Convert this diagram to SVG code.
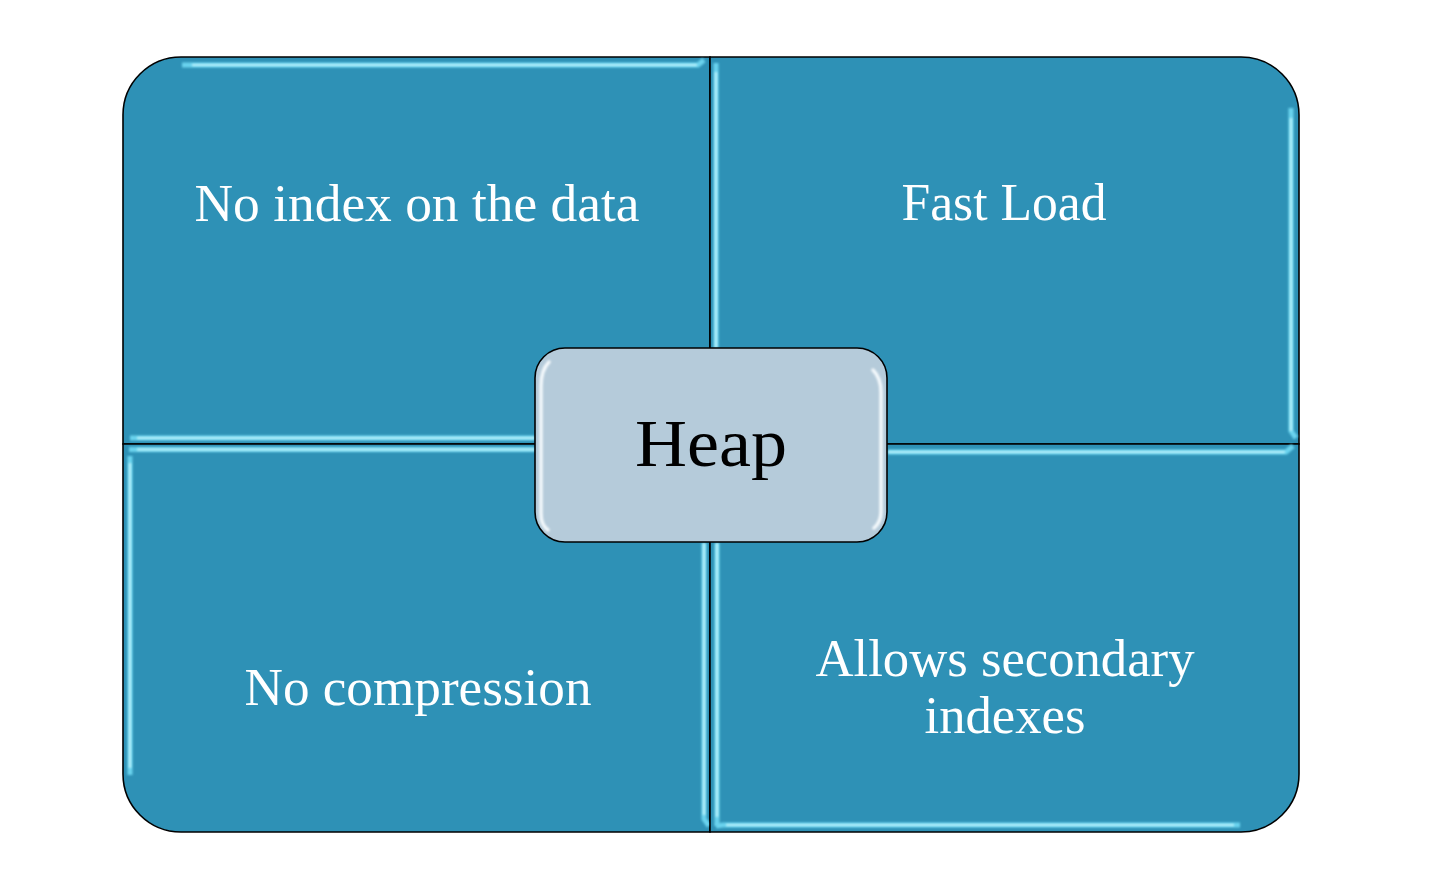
<svg xmlns="http://www.w3.org/2000/svg" width="1441" height="870" viewBox="0 0 1441 870">
  <defs>
    <filter id="soft" filterUnits="userSpaceOnUse" x="0" y="0" width="1441" height="870">
      <feGaussianBlur stdDeviation="0.8"/>
    </filter>
    <style>
      .quad { fill: #2e91b6; stroke: #000; stroke-width: 1.6; }
      .hl { fill: none; stroke: #6ad3ee; stroke-width: 5; stroke-linecap: butt; filter: url(#soft); }
      .hl2 { fill: none; stroke: #bff3fc; stroke-width: 2.2; filter: url(#soft); }
      .lbl { font-family: "Liberation Serif", "Times New Roman", serif; font-size: 52px; fill: #ffffff; text-anchor: middle; }
      .heapbox { fill: #b5cbda; stroke: #000; stroke-width: 1.6; }
      .heaplbl { font-family: "Liberation Serif", "Times New Roman", serif; font-size: 68px; fill: #000000; text-anchor: middle; }
      .hhl { fill: none; stroke: #f4f9fc; stroke-width: 3.5; stroke-linecap: round; filter: url(#soft); }
    </style>
  </defs>
  <rect width="1441" height="870" fill="#ffffff"/>

  <g id="node-no-index">
    <path class="quad" d="M123,444 V115 A58,58 0 0 1 181,57 H710 V444 Z"/>
    <path class="hl" d="M182,65 H698 L704,60"/>
    <path class="hl2" d="M192,65 H697"/>
    <path class="hl" d="M130,438 H535"/>
    <path class="hl2" d="M137,438 H535"/>
    <text class="lbl" x="417" y="221" textLength="445" lengthAdjust="spacingAndGlyphs">No index on the data</text>
  </g>

  <g id="node-fast-load">
    <path class="quad" d="M710,57 H1241 A58,58 0 0 1 1299,115 V444 H710 Z"/>
    <path class="hl" d="M716,63 V348"/>
    <path class="hl2" d="M716,72 V348"/>
    <path class="hl" d="M1291,108 V431 L1296,438"/>
    <path class="hl2" d="M1291,118 V431"/>
    <text class="lbl" x="1004" y="220" textLength="205" lengthAdjust="spacingAndGlyphs">Fast Load</text>
  </g>

  <g id="node-no-compression">
    <path class="quad" d="M123,444 H710 V832 H181 A58,58 0 0 1 123,774 Z"/>
    <path class="hl" d="M130,456 V775"/>
    <path class="hl2" d="M130,463 V768"/>
    <path class="hl" d="M129,449.5 H535"/>
    <path class="hl2" d="M137,449.5 H535"/>
    <path class="hl" d="M704,543 V819 L709,826"/>
    <path class="hl2" d="M704,543 V815"/>
    <text class="lbl" x="418" y="705" textLength="347" lengthAdjust="spacingAndGlyphs">No compression</text>
  </g>

  <g id="node-secondary-indexes">
    <path class="quad" d="M710,444 H1299 V774 A58,58 0 0 1 1241,832 H710 Z"/>
    <path class="hl" d="M888,452 H1286 L1293,446"/>
    <path class="hl2" d="M888,452 H1285"/>
    <path class="hl" d="M717,543 V826"/>
    <path class="hl2" d="M717,543 V817"/>
    <path class="hl" d="M716,826 L723,825 H1240"/>
    <path class="hl2" d="M726,825 H1234"/>
    <text class="lbl" x="1005" y="676" textLength="379" lengthAdjust="spacingAndGlyphs">Allows secondary</text>
    <text class="lbl" x="1005" y="733" textLength="161" lengthAdjust="spacingAndGlyphs">indexes</text>
  </g>

  <g id="node-heap">
    <rect class="heapbox" x="535" y="348" width="352" height="194" rx="30" ry="30"/>
    <path class="hhl" d="M549,362 Q541,370 541,386 V514 Q541,525 548,530"/>
    <path class="hhl" d="M873,370 Q881,378 881,392 V512 Q881,522 874,528"/>
    <text class="heaplbl" x="711" y="466" textLength="152" lengthAdjust="spacingAndGlyphs">Heap</text>
  </g>
</svg>
